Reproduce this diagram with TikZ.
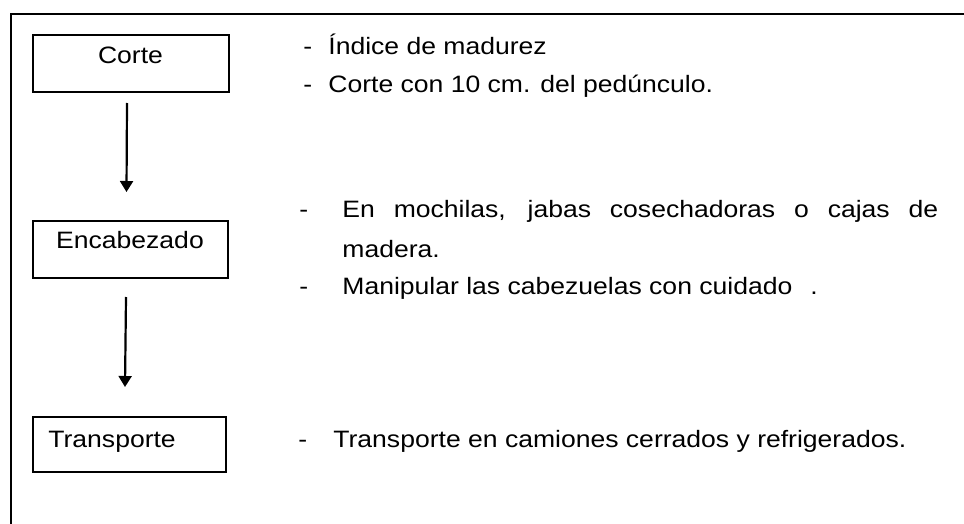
\documentclass[tikz,border=0pt]{standalone}
\usepackage{fontspec}
\usepackage{graphicx}
\setmainfont{Liberation Sans}
\usetikzlibrary{arrows.meta}
\newcommand{\wtext}[1]{\scalebox{1.12}[1]{#1}}
\tikzset{
  stepbox/.style={draw=black, line width=1pt, inner sep=0pt},
  txt/.style={inner sep=0pt, anchor=base west, font=\fontsize{11.85}{14}\selectfont},
  ctxt/.style={inner sep=0pt, anchor=base, font=\fontsize{11.85}{14}\selectfont},
  arr/.style={line width=1.1pt, -{Triangle[width=6.5pt,length=5.5pt]}},
  frame/.style={line width=1.1pt}
}
\begin{document}
\begin{tikzpicture}[x=0.5pt, y=-0.5pt]
\useasboundingbox (0,0) rectangle (964,524);
\coordinate (ftr) at (964,14);
\coordinate (ftl) at (11,14);
\coordinate (fbl) at (11,524);
\draw[frame] (ftr) -- (ftl) -- (fbl);

\node[stepbox, minimum width=98pt, minimum height=28.5pt] (corte) at (131,63.5) {};
\node[stepbox, minimum width=97.5pt, minimum height=28.5pt] (enc) at (130.5,249.5) {};
\node[stepbox, minimum width=96.5pt, minimum height=27.5pt] (transp) at (129.5,444.5) {};

\node[ctxt] (tcorte) at (130.5,64) {\wtext{Corte}};
\node[ctxt] (tenc) at (130,249) {\wtext{Encabezado}};
\node[txt] (ttransp) at (48,447) {\wtext{Transporte}};

\draw[arr] ([xshift=-2pt,yshift=-5pt]corte.south) -- ([xshift=-2pt,yshift=14pt]enc.north);
\draw[arr] ([xshift=-2.25pt,yshift=-9pt]enc.south) -- ([xshift=-2.25pt,yshift=14.5pt]transp.north);

% descriptions
\node[txt] (d1) at (303,55) {\wtext{-}};
\node[txt] (l1) at (328,55) {\wtext{Índice de madurez}};
\node[txt] (d2) at (303,93) {\wtext{-}};
\node[txt] (l2) at (328,93) {\wtext{Corte con 10 cm. del pedúnculo.}};

\node[txt] (d3) at (299,217) {\wtext{-}};
\node[txt] (l3) at (342,217) {\wtext{\makebox[266pt][s]{En mochilas, jabas cosechadoras o cajas de}}};
\node[txt] (l3b) at (342,257) {\wtext{madera.}};
\node[txt] (d4) at (299,294) {\wtext{-}};
\node[txt] (l4) at (342,294) {\wtext{Manipular las cabezuelas con cuidado\hspace{8pt}.}};

\node[txt] (d5) at (298,447) {\wtext{-}};
\node[txt] (l5) at (333,447) {\wtext{Transporte en camiones cerrados y refrigerados.}};
\end{tikzpicture}
\end{document}
